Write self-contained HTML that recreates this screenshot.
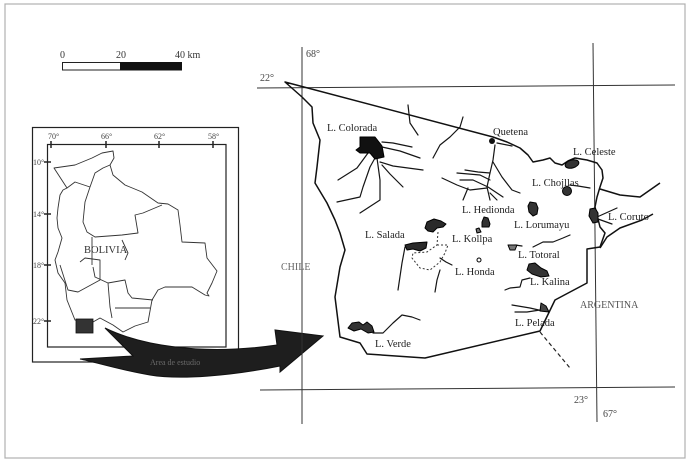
<!DOCTYPE html>
<html><head><meta charset="utf-8"><style>
html,body{margin:0;padding:0;background:#fff;}
svg{display:block;}
text{font-family:"Liberation Serif",serif;}
</style></head><body>
<svg width="689" height="461" viewBox="0 0 689 461" xmlns="http://www.w3.org/2000/svg">
<rect x="0" y="0" width="689" height="461" fill="#fff"/>
<rect x="5" y="4" width="680" height="454" fill="none" stroke="#b0b0b0" stroke-width="1.2"/>

<!-- scale bar -->
<text x="60" y="58" font-size="10" fill="#333">0</text>
<text x="116" y="58" font-size="10" fill="#333">20</text>
<text x="175" y="58" font-size="10" fill="#333">40 km</text>
<rect x="62.5" y="62.5" width="58" height="7.5" fill="#fff" stroke="#222" stroke-width="1"/>
<rect x="120.5" y="62.5" width="61" height="7.5" fill="#111" stroke="#111" stroke-width="1"/>

<!-- inset -->
<rect x="32.5" y="127.5" width="206" height="234.5" fill="none" stroke="#222" stroke-width="1.2"/>
<rect x="47.5" y="144.5" width="178.5" height="202.5" fill="none" stroke="#222" stroke-width="1.2"/>
<g stroke="#222" stroke-width="1.5">
<line x1="51" y1="141" x2="51" y2="148"/><line x1="106" y1="141" x2="106" y2="148"/>
<line x1="159" y1="141" x2="159" y2="148"/><line x1="213" y1="141" x2="213" y2="148"/>
<line x1="44" y1="162" x2="51" y2="162"/><line x1="44" y1="214" x2="51" y2="214"/>
<line x1="44" y1="265" x2="51" y2="265"/><line x1="44" y1="321" x2="51" y2="321"/>
</g>
<g font-size="8" fill="#444">
<text x="48" y="139">70°</text><text x="101" y="139">66°</text>
<text x="154" y="139">62°</text><text x="208" y="139">58°</text>
<text x="33" y="165">10°</text><text x="33" y="217">14°</text>
<text x="33" y="268">18°</text><text x="33" y="324">22°</text>
</g>
<g fill="none" stroke="#333" stroke-width="0.9" stroke-linejoin="round">
<path d="M54,168 L75,165 L92,158 L102,153 L113,151 L114,158 L110,165 L113,175 L125,185 L142,192 L158,203 L168,204 L178,210 L180,225 L182,242 L205,243 L207,258 L217,271 L212,283 L207,293 L209,296 L205,295 L192,287 L165,287 L158,290 L152,300 L148,322 L135,326 L123,332 L113,325 L100,318 L93,322 L75,320 L67,300 L65,283 L58,273 L55,260 L58,252 L62,238 L58,228 L57,218 L58,208 L60,195 L63,190 L67,188 Z"/>
<path d="M67,188 L75,182 L90,187"/>
<path d="M90,187 L95,173 L103,168 L110,165"/>
<path d="M90,187 L85,202 L83,222 L87,232 L95,237 L122,235 L138,233 L135,215 L143,213 L162,205"/>
<path d="M92,237 L92,252 L92,265"/>
<path d="M60,265 L68,290 L78,292 L100,280 L100,260 L85,258 L80,262"/>
<path d="M93,267 L95,277 L108,283 L110,307 L112,318"/>
<path d="M125,260 L128,253 L122,240"/>
<path d="M108,283 L125,280 L128,293 L132,298 L153,300"/>
<path d="M115,308 L128,308 L150,308"/>
</g>
<text x="84" y="253" font-size="10.5" fill="#333">BOLIVIA</text>
<rect x="76" y="319" width="17" height="14" fill="#333" stroke="#111" stroke-width="0.8"/>

<!-- big arrow -->
<path d="M80,359 L133,356 L105,328 C140,345 200,356 277,345 L275,330 L323,336 L280,372 L280,366 C230,376 180,380 150,375 C120,370 95,362 80,359 Z" fill="#1e1e1e" stroke="#111" stroke-width="1"/>
<text x="150" y="365" font-size="8" fill="#6a6a6a">Area de estudio</text>

<!-- grid lines main map -->
<g stroke="#333" stroke-width="1">
<line x1="302" y1="47" x2="302" y2="424"/>
<line x1="257" y1="88" x2="675" y2="85"/>
<line x1="593" y1="43" x2="597" y2="422"/>
<line x1="260" y1="390" x2="675" y2="387"/>
</g>
<g font-size="10" fill="#444">
<text x="306" y="57">68°</text>
<text x="260" y="81">22°</text>
<text x="574" y="403">23°</text>
<text x="603" y="417">67°</text>
</g>
<text x="281" y="270" font-size="10" fill="#666">CHILE</text>
<text x="580" y="308" font-size="10" fill="#555">ARGENTINA</text>

<!-- study area boundary -->
<g fill="none" stroke="#111" stroke-width="1.5" stroke-linejoin="round">
<path d="M285,82 L493,137 L507,142 L520,148 L528,155 L533,162 L543,160 L550,158 L555,163 L562,165 L568,161 L575,158 L587,160 L597,163 L602,170 L603,178 L600,187 L597,197 L595,207 L597,215 L600,227 L605,233 L600,247 L587,249 L587,283 L555,300 L540,331 L425,358 L367,354 L360,343 L340,337 L335,297 L340,267 L345,250 L340,233 L335,220 L327,203 L315,183 L317,167 L320,140 L313,123 L312,107 L302,97 Z"/>
<path d="M600,189 L620,195 L640,197 L660,183"/>
<path d="M653,214 L642,220 L620,228 L607,237 L600,248"/>
</g>
<path d="M540,332 L570,368" stroke="#222" stroke-width="1.2" stroke-dasharray="4,3" fill="none"/>

<!-- rivers -->
<g fill="none" stroke="#151515" stroke-width="1.2" stroke-linejoin="round" stroke-linecap="round">
<path d="M382,142 L393,143 L412,147"/>
<path d="M382,147 L400,151 L420,158"/>
<path d="M380,162 L393,166 L423,170"/>
<path d="M382,165 L390,174 L403,187"/>
<path d="M377,158 L380,180 L380,200 L360,213"/>
<path d="M375,158 L370,167 L363,187 L360,197 L337,202"/>
<path d="M368,153 L357,168 L338,180"/>
<path d="M408,105 L410,123 L418,135"/>
<path d="M463,117 L460,127 L450,137 L440,145 L433,158"/>
<path d="M497,143 L512,146"/>
<path d="M495,145 L493,160 L490,173 L487,187 L490,200"/>
<path d="M493,162 L502,177 L512,190 L520,193"/>
<path d="M457,173 L480,175 L490,180"/>
<path d="M465,170 L478,172 L490,173"/>
<path d="M460,180 L473,180 L488,187 L503,197"/>
<path d="M468,188 L463,200"/>
<path d="M442,178 L457,185 L470,190 L487,188"/>
<path d="M490,193 L497,200"/>
<path d="M570,185 L578,186 L590,188"/>
<path d="M597,217 L617,208"/>
<path d="M598,219 L612,224"/>
<path d="M533,247 L543,242 L553,242 L563,238 L570,235"/>
<path d="M515,245 L522,246"/>
<path d="M530,278 L522,280 L520,287 L510,288 L505,290"/>
<path d="M512,305 L530,308 L543,311"/>
<path d="M515,312 L527,312 L540,310"/>
<path d="M373,333 L383,333 L393,323 L402,315 L412,317 L420,320"/>
<path d="M405,247 L402,263 L398,290"/>
<path d="M440,258 L446,262 L452,265"/>
<path d="M440,270 L437,280 L435,292"/>
</g>
<path d="M438,232 L437,245 L427,252 L413,253 L412,258 L420,268 L430,270 L440,262 L445,253 L448,245 L437,245" fill="none" stroke="#333" stroke-width="1" stroke-dasharray="2,2"/>

<!-- lakes -->
<g stroke="#000" stroke-width="1" stroke-linejoin="round">
<polygon points="360,137 375,137 382,146 384,157 375,159 370,153 360,153 356,150 360,147" fill="#111"/>
<ellipse cx="572" cy="164" rx="7" ry="4" transform="rotate(-15 572 164)" fill="#333"/>
<circle cx="567" cy="191" r="4.5" fill="#333"/>
<polygon points="484,217 488,218 490,224 489,227 482,227 482,222" fill="#333"/>
<polygon points="530,202 536,203 538,208 537,214 533,216 529,212 528,206" fill="#333"/>
<polygon points="476,229 479,228 481,232 477,233" fill="#777"/>
<polygon points="427,222 434,219 441,221 446,224 443,227 437,228 433,232 428,231 425,228" fill="#2a2a2a"/>
<polygon points="405,245 413,243 427,242 426,248 420,251 413,249 407,250" fill="#2a2a2a"/>
<circle cx="479" cy="260" r="2" fill="#fff"/>
<polygon points="508,245 517,245 515,250 510,250" fill="#777"/>
<polygon points="529,264 535,263 541,268 547,271 549,276 541,277 532,274 527,270" fill="#333"/>
<polygon points="541,303 546,306 549,312 540,311" fill="#444"/>
<polygon points="348,328 352,323 359,322 363,325 367,322 372,326 374,332 368,333 361,329 354,331" fill="#333"/>
<polygon points="590,209 595,208 598,213 598,222 593,223 589,216" fill="#333"/>
</g>
<circle cx="492" cy="141" r="3" fill="#111"/>

<!-- labels -->
<g font-size="10.5" fill="#222">
<text x="327" y="131">L. Colorada</text>
<text x="493" y="135">Quetena</text>
<text x="573" y="155">L. Celeste</text>
<text x="532" y="186">L. Chojllas</text>
<text x="462" y="213">L. Hedionda</text>
<text x="514" y="228">L. Lorumayu</text>
<text x="608" y="220">L. Coruto</text>
<text x="365" y="238">L. Salada</text>
<text x="452" y="242">L. Kollpa</text>
<text x="518" y="258">L. Totoral</text>
<text x="455" y="275">L. Honda</text>
<text x="530" y="285">L. Kalina</text>
<text x="515" y="326">L. Pelada</text>
<text x="375" y="347">L. Verde</text>
</g>
</svg>
</body></html>
